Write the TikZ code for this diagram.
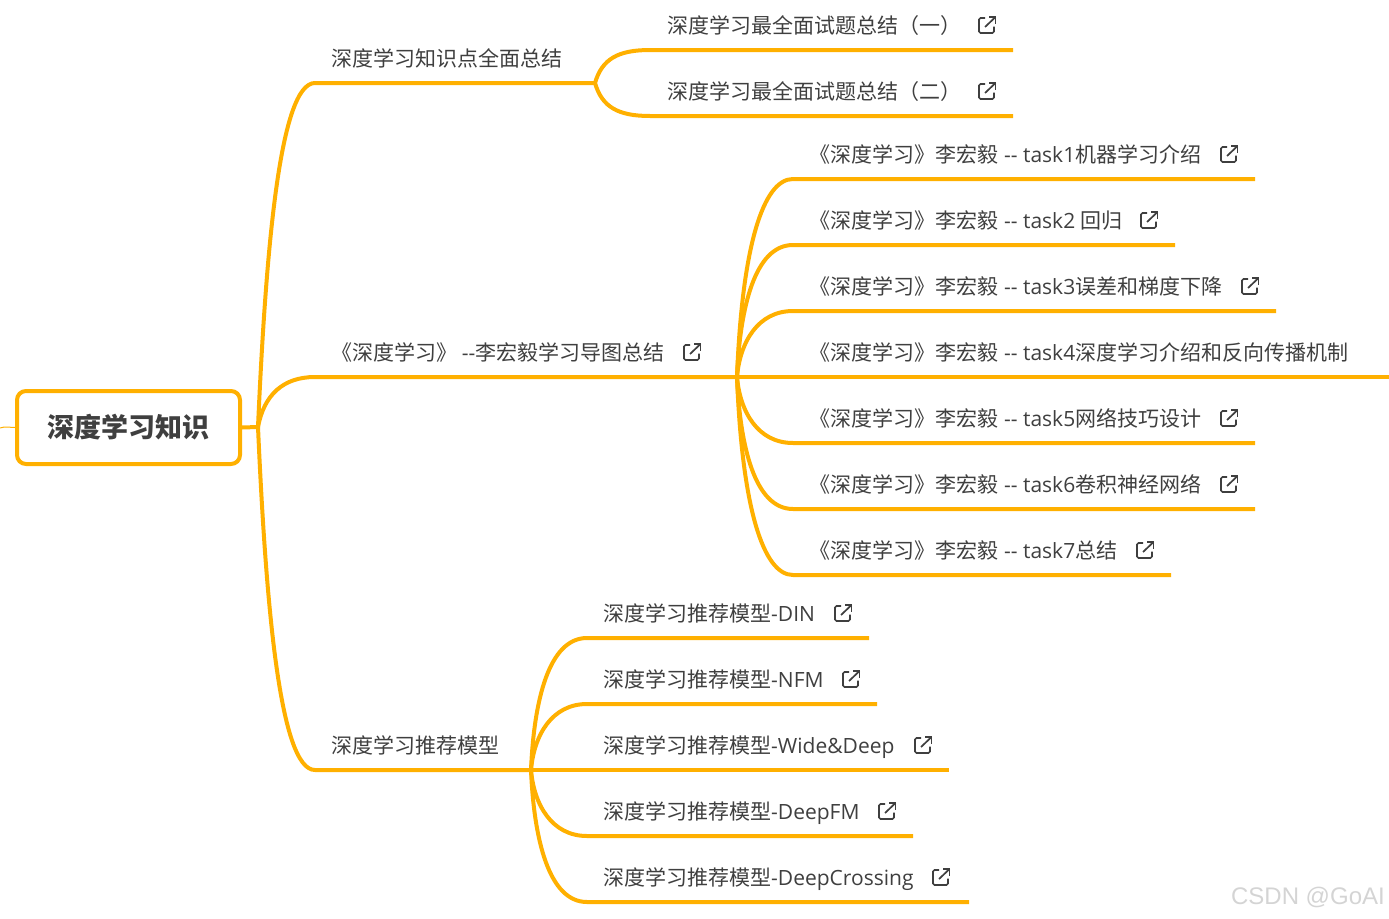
\documentclass[tikz,border=0pt]{standalone}
\usepackage{fontspec}
\setmainfont{Open Sans}
\newfontfamily\cjk{Noto Sans CJK SC}
\newfontfamily\markfont{Liberation Sans}
\usetikzlibrary{positioning,calc}
\definecolor{branchcol}{HTML}{FFB000}
\definecolor{textcol}{HTML}{3F3F3F}
\tikzset{
	leaf/.style={anchor=base west, inner sep=0pt, text=textcol, font=\fontsize{21}{25}\selectfont},
	rootbox/.style={draw=branchcol, line width=4pt, rounded corners=9pt, minimum width=223pt, minimum height=73pt, inner sep=0pt, fill=white, text=textcol, font=\fontsize{27}{32}\selectfont\bfseries},
	branch/.style={draw=branchcol, line width=4pt},
	linkicon/.pic={
		\draw[textcol, line width=1.7pt, rounded corners=1.5pt] (-2,-7) -- (-8,-7) -- (-8,8) -- (7,8) -- (7,1.5);
		\draw[textcol, line width=1.7pt] (-2,2) -- (8.5,-8);
		\draw[textcol, line width=1.7pt] (2,-8) -- (8.5,-8) -- (8.5,-1.5);
	}
}
\begin{document}
\begin{tikzpicture}[x=1pt, y=-1pt]
	\useasboundingbox (0,0) rectangle (1389,918);
	% hubs
	\coordinate (hub) at (258,427);
	\coordinate (hubA) at (595,83);
	\coordinate (hubB) at (737,377);
	\coordinate (hubC) at (531,770);
	\coordinate (edge) at (0,428);

	\node[rootbox] (root) at (128.5,427.5) {{\cjk\bfseries 深度学习知识}};

	% first level
	\node[leaf] (know) at (331,66) {{\cjk 深度学习知识点全面总结}};
	\node[leaf] (book) at (331,360) {{\cjk 《深度学习》 }-{}-{\cjk 李宏毅学习导图总结}};
	\node[leaf] (rec) at (331,753) {{\cjk 深度学习推荐模型}};

	% second level
	\node[leaf] (qa1) at (667,33) {{\cjk 深度学习最全面试题总结（一）}};
	\node[leaf] (qa2) at (667,99) {{\cjk 深度学习最全面试题总结（二）}};

	\node[leaf] (t1) at (809.5,162) {{\cjk 《深度学习》李宏毅} -{}- task1{\cjk 机器学习介绍}};
	\node[leaf] (t2) at (809.5,228) {{\cjk 《深度学习》李宏毅} -{}- task2 {\cjk 回归}};
	\node[leaf] (t3) at (809.5,294) {{\cjk 《深度学习》李宏毅} -{}- task3{\cjk 误差和梯度下降}};
	\node[leaf] (t4) at (809.5,360) {{\cjk 《深度学习》李宏毅} -{}- task4{\cjk 深度学习介绍和反向传播机制}};
	\node[leaf] (t5) at (809.5,426) {{\cjk 《深度学习》李宏毅} -{}- task5{\cjk 网络技巧设计}};
	\node[leaf] (t6) at (809.5,492) {{\cjk 《深度学习》李宏毅} -{}- task6{\cjk 卷积神经网络}};
	\node[leaf] (t7) at (809.5,558) {{\cjk 《深度学习》李宏毅} -{}- task7{\cjk 总结}};

	\node[leaf] (m1) at (603,621) {{\cjk 深度学习推荐模型}-DIN};
	\node[leaf] (m2) at (603,687) {{\cjk 深度学习推荐模型}-NFM};
	\node[leaf] (m3) at (603,753) {{\cjk 深度学习推荐模型}-Wide\&Deep};
	\node[leaf] (m4) at (603,819) {{\cjk 深度学习推荐模型}-DeepFM};
	\node[leaf] (m5) at (603,885) {{\cjk 深度学习推荐模型}-DeepCrossing};

	% link marks
	\pic at (987,25) {linkicon};
	\pic at (987,91) {linkicon};
	\pic at (692,352) {linkicon};
	\pic at (1229,154) {linkicon};
	\pic at (1149,220) {linkicon};
	\pic at (1250,286) {linkicon};
	\pic at (1229,418) {linkicon};
	\pic at (1229,484) {linkicon};
	\pic at (1145,550) {linkicon};
	\pic at (843,613) {linkicon};
	\pic at (851,679) {linkicon};
	\pic at (923,745) {linkicon};
	\pic at (887,811) {linkicon};
	\pic at (941,877) {linkicon};

	% underline ends
	\coordinate (knowS) at (315,83);   \coordinate (knowE) at (595,83);
	\coordinate (bookS) at (315,377);
	\coordinate (recS) at (315,770);
	\coordinate (qa1S) at (650,50);    \coordinate (qa1E) at (1013,50);
	\coordinate (qa2S) at (650,116);   \coordinate (qa2E) at (1013,116);
	\coordinate (t1S) at (793,179);    \coordinate (t1E) at (1255,179);
	\coordinate (t2S) at (793,245);    \coordinate (t2E) at (1175,245);
	\coordinate (t3S) at (793,311);    \coordinate (t3E) at (1276,311);
	\coordinate (t4E) at (1389,377);
	\coordinate (t5S) at (793,443);    \coordinate (t5E) at (1255,443);
	\coordinate (t6S) at (793,509);    \coordinate (t6E) at (1255,509);
	\coordinate (t7S) at (793,575);    \coordinate (t7E) at (1171,575);
	\coordinate (m1S) at (587,638);    \coordinate (m1E) at (869,638);
	\coordinate (m2S) at (587,704);    \coordinate (m2E) at (877,704);
	\coordinate (m3E) at (949,770);
	\coordinate (m4S) at (587,836);    \coordinate (m4E) at (913,836);
	\coordinate (m5S) at (587,902);    \coordinate (m5E) at (969,902);

	% connectors
	\draw[branchcol, line width=1pt] (edge) .. controls +(6,-2) and +(-6,0) .. (root.west);
	\draw[branch] (root.east) -- (hub);
	\draw[branch] (hub) .. controls +(8,-180) and +(-35,0) .. (knowS) -- (knowE);
	\draw[branch] (hub) .. controls +(6,-32) and +(-32,0) .. (bookS) -- (hubB);
	\draw[branch] (hub) .. controls +(8,180) and +(-35,0) .. (recS) -- (hubC);

	\draw[branch] (hubA) .. controls +(7,-24) and +(-32,0) .. (qa1S) -- (qa1E);
	\draw[branch] (hubA) .. controls +(7,24) and +(-32,0) .. (qa2S) -- (qa2E);

	\draw[branch] (hubB) .. controls +(5,-130) and +(-30,0) .. (t1S) -- (t1E);
	\draw[branch] (hubB) .. controls +(3,-70) and +(-38,0) .. (t2S) -- (t2E);
	\draw[branch] (hubB) .. controls +(3,-35) and +(-35,0) .. (t3S) -- (t3E);
	\draw[branch] (hubB) -- (t4E);
	\draw[branch] (hubB) .. controls +(3,35) and +(-35,0) .. (t5S) -- (t5E);
	\draw[branch] (hubB) .. controls +(3,70) and +(-38,0) .. (t6S) -- (t6E);
	\draw[branch] (hubB) .. controls +(5,130) and +(-30,0) .. (t7S) -- (t7E);

	\draw[branch] (hubC) .. controls +(3,-70) and +(-38,0) .. (m1S) -- (m1E);
	\draw[branch] (hubC) .. controls +(3,-35) and +(-35,0) .. (m2S) -- (m2E);
	\draw[branch] (hubC) -- (m3E);
	\draw[branch] (hubC) .. controls +(3,35) and +(-35,0) .. (m4S) -- (m4E);
	\draw[branch] (hubC) .. controls +(3,70) and +(-38,0) .. (m5S) -- (m5E);

	\node[anchor=base east, inner sep=0pt, text=black!17, font=\markfont\fontsize{24}{28}\selectfont] (mark) at (1385,904) {CSDN @GoAI};
\end{tikzpicture}
\end{document}
